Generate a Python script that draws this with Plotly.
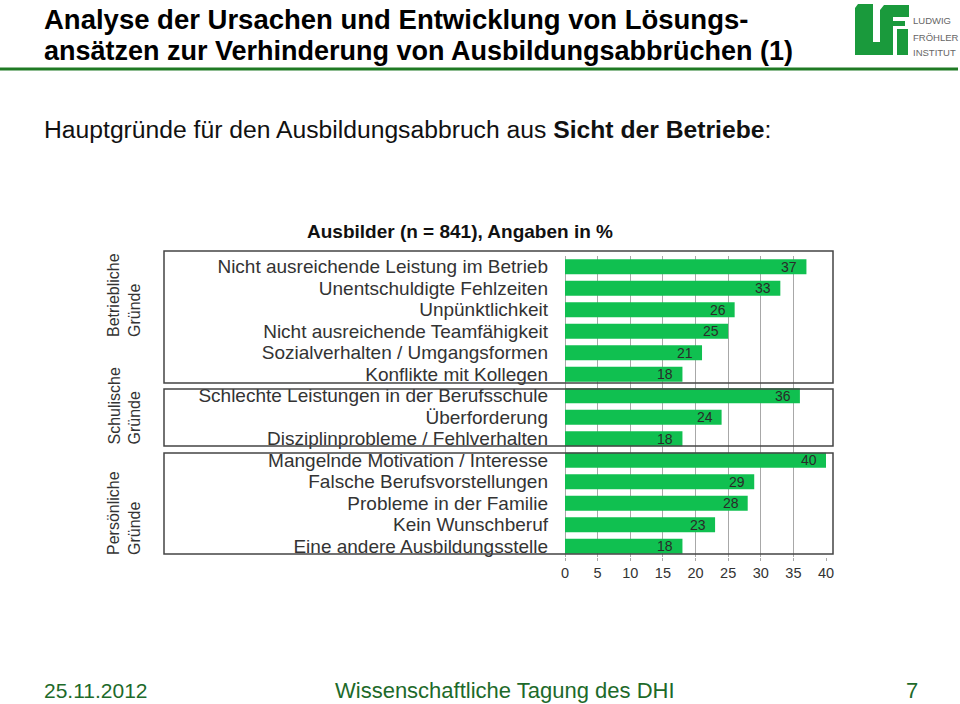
import plotly.graph_objects as go

# ---------------- data ----------------
categories = [
    "Nicht ausreichende Leistung im Betrieb",
    "Unentschuldigte Fehlzeiten",
    "Unpünktlichkeit",
    "Nicht ausreichende Teamfähigkeit",
    "Sozialverhalten / Umgangsformen",
    "Konflikte mit Kollegen",
    "Schlechte Leistungen in der Berufsschule",
    "Überforderung",
    "Disziplinprobleme / Fehlverhalten",
    "Mangelnde Motivation / Interesse",
    "Falsche Berufsvorstellungen",
    "Probleme in der Familie",
    "Kein Wunschberuf",
    "Eine andere Ausbildungsstelle",
]
values = [37, 33, 26, 25, 21, 18, 36, 24, 18, 40, 29, 28, 23, 18]
group_labels = ["Betriebliche<br>Gründe", "Schulische<br>Gründe", "Persönliche<br>Gründe"]
x_ticks = [0, 5, 10, 15, 20, 25, 30, 35, 40]

title_line1 = "Analyse der Ursachen und Entwicklung von Lösungs-"
title_line2 = "ansätzen zur Verhinderung von Ausbildungsabbrüchen (1)"
subtitle = "Hauptgründe für den Ausbildungsabbruch aus <b>Sicht der Betriebe</b>:"
chart_title = "Ausbilder (n = 841), Angaben in %"
footer_date = "25.11.2012"
footer_event = "Wissenschaftliche Tagung des DHI"
footer_page = "7"
logo_words = ["LUDWIG", "FRÖHLER", "INSTITUT"]

# ---------------- layout geometry ----------------
W, H = 960, 704
L, R, T, B = 565, 826, 256, 557


def px(x):
    return (x - L) / (R - L)


def py(y):
    return (B - y) / (B - T)


BAR = "#10c050"
TXT = "#333333"
GREEN_DARK = "#1f7a24"
FOOT = "#1d6a2a"
SANS = "Liberation Sans, Arial, Helvetica, sans-serif"

fig = go.Figure()
fig.add_trace(go.Bar(
    x=values, y=categories, orientation="h",
    marker=dict(color=BAR, line=dict(width=0)),
    width=0.7, hoverinfo="x+y",
))

annotations = []
# value labels at bar ends
for c, v in zip(categories, values):
    annotations.append(dict(
        x=v, y=c, xref="x", yref="y", text=str(v), showarrow=False,
        xanchor="right", yanchor="middle", xshift=-7,
        font=dict(family=SANS, size=14, color="#2a2a2a"),
    ))

# group labels (rotated)
group_pos = [(124, 338), (124, 446), (124, 556)]
for g, (gx, gy) in zip(group_labels, group_pos):
    annotations.append(dict(
        x=px(gx), y=py(gy), xref="paper", yref="paper", text=g,
        showarrow=False, textangle=-90, align="left",
        xanchor="center", yanchor="bottom", borderpad=0,
        font=dict(family=SANS, size=16, color=TXT),
    ))

# titles
annotations += [
    dict(x=px(42), y=py(19), xref="paper", yref="paper", text="<b>" + title_line1 + "</b>",
         showarrow=False, xanchor="left", yanchor="middle",
         font=dict(family=SANS, size=27.5, color="#000000")),
    dict(x=px(42), y=py(51), xref="paper", yref="paper", text="<b>" + title_line2 + "</b>",
         showarrow=False, xanchor="left", yanchor="middle",
         font=dict(family=SANS, size=27, color="#000000")),
    dict(x=px(42), y=py(130), xref="paper", yref="paper", text=subtitle,
         showarrow=False, xanchor="left", yanchor="middle",
         font=dict(family=SANS, size=24.7, color="#111111")),
    dict(x=px(460), y=py(231), xref="paper", yref="paper", text="<b>" + chart_title + "</b>",
         showarrow=False, xanchor="center", yanchor="middle",
         font=dict(family=SANS, size=19, color="#111111")),
    dict(x=px(42), y=py(690), xref="paper", yref="paper", text=footer_date,
         showarrow=False, xanchor="left", yanchor="middle",
         font=dict(family=SANS, size=21, color=FOOT)),
    dict(x=px(505), y=py(690), xref="paper", yref="paper", text=footer_event,
         showarrow=False, xanchor="center", yanchor="middle",
         font=dict(family=SANS, size=22, color=FOOT)),
    dict(x=px(912), y=py(690), xref="paper", yref="paper", text=footer_page,
         showarrow=False, xanchor="center", yanchor="middle",
         font=dict(family=SANS, size=22, color=FOOT)),
]
# logo words
for w, yy in zip(logo_words, [20, 37, 53]):
    annotations.append(dict(
        x=px(912), y=py(yy), xref="paper", yref="paper", text=w, showarrow=False,
        xanchor="left", yanchor="middle", borderpad=0,
        font=dict(family=SANS, size=9.5, color="#666666"),
    ))

shapes = []
# group boxes
for y0, y1 in [(251, 383), (389, 446), (453, 554)]:
    shapes.append(dict(type="rect", xref="paper", yref="paper",
                       x0=px(164), x1=px(833), y0=py(y0), y1=py(y1),
                       line=dict(color="#444444", width=1.5), layer="above"))
# green rule under title
shapes.append(dict(type="line", xref="paper", yref="paper",
                   x0=px(0), x1=px(958), y0=py(69), y1=py(69),
                   line=dict(color=GREEN_DARK, width=3)))


def path(points):
    return "M " + " L ".join(f"{px(a)},{py(b)}" for a, b in points) + " Z"


LOGO = "#1a9a3c"
# L shape
shapes.append(dict(type="path", xref="paper", yref="paper", fillcolor=LOGO, line=dict(width=0),
                   path=path([(858, 4), (873, 4), (873, 42), (882, 42), (882, 55), (855, 55), (855, 8)])))
# F shape
shapes.append(dict(type="path", xref="paper", yref="paper", fillcolor=LOGO, line=dict(width=0),
                   path=path([(884, 5), (909, 5), (909, 17), (893, 17), (893, 21), (905, 21),
                              (905, 26), (893, 26), (893, 55), (880, 55), (880, 10)])))
# I shape
shapes.append(dict(type="rect", xref="paper", yref="paper", fillcolor=LOGO, line=dict(width=0),
                   x0=px(897), x1=px(908), y0=py(29), y1=py(55)))

fig.update_layout(
    width=W, height=H,
    margin=dict(l=L, r=W - R, t=T, b=H - B, pad=0),
    paper_bgcolor="white", plot_bgcolor="white",
    showlegend=False,
    bargap=0.3,
    annotations=annotations,
    shapes=shapes,
    xaxis=dict(
        range=[0, 40], tickvals=x_ticks, ticktext=[str(t) for t in x_ticks],
        showgrid=True, gridcolor="#a8a8a8", gridwidth=1,
        zeroline=True, zerolinecolor="#a8a8a8", zerolinewidth=1,
        ticks="outside", ticklen=3, tickcolor="#a8a8a8",
        showline=False, fixedrange=True,
        tickfont=dict(family=SANS, size=14.5, color=TXT),
    ),
    yaxis=dict(
        type="category", autorange="reversed",
        tickmode="array", tickvals=categories, ticktext=categories,
        showgrid=False, zeroline=False, showline=False, ticks="",
        ticklabelstandoff=16,
        tickfont=dict(family=SANS, size=19, color=TXT),
        fixedrange=True,
    ),
)

fig.write_html("out.html", config={"displayModeBar": False},
               post_script="document.body.style.margin='0';")
